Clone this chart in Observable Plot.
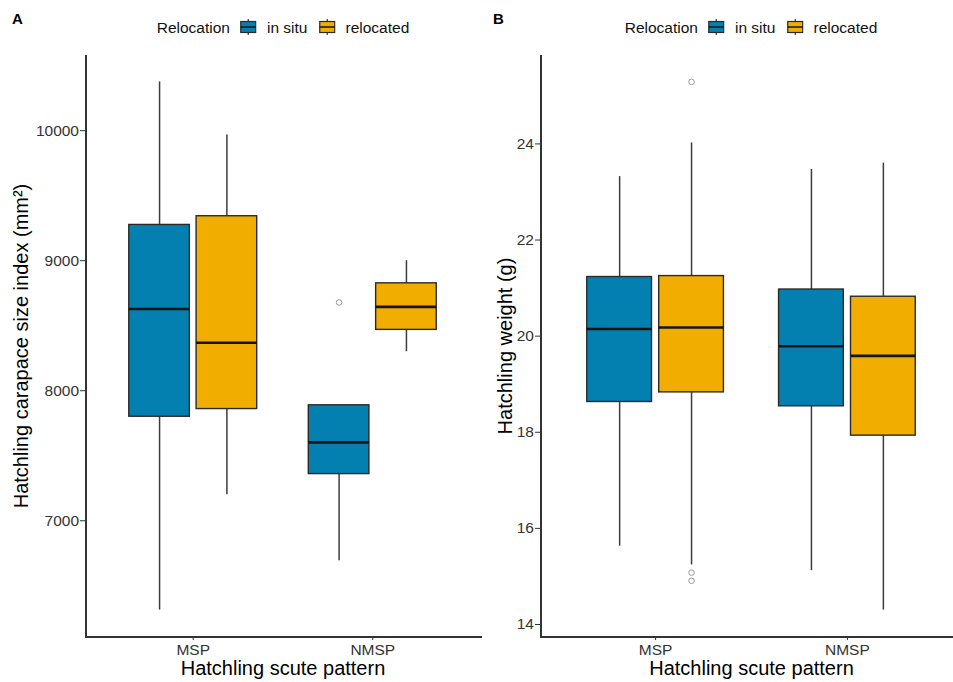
<!DOCTYPE html>
<html>
<head>
<meta charset="utf-8">
<script src="https://cdn.jsdelivr.net/npm/d3@7"></script>
<script src="https://cdn.jsdelivr.net/npm/@observablehq/plot@0.6"></script>
<style>
  html, body { margin: 0; padding: 0; background: #fff; overflow: hidden; }
  #root { position: relative; width: 953px; height: 682px; overflow: hidden;
          font-family: "Liberation Sans", Arial, Helvetica, sans-serif; background: #fff; }
  .tag { position: absolute; font-weight: bold; font-size: 15px; color: #000; line-height: 1; }
  .legend { position: absolute; display: flex; align-items: center; transform: translate(-50%, -50%);
            font-size: 15.5px; color: #111; white-space: nowrap; line-height: 1; }
  .legend .ttl { margin-right: 10px; }
  .legend svg { margin-right: 10px; display: block; }
  .legend .lab { margin-right: 11px; }
  .legend .lab:last-child { margin-right: 0; }
  .plotwrap { position: absolute; top: 40px; width: 482px; height: 642px; }
  .plotwrap svg { max-width: none !important; }
  .plotwrap [aria-label$="-axis label"] { font-size: 20px; fill: #000; }
</style>
</head>
<body>
<div id="root"></div>
<script>
// ---- categories ----
const patterns = ["MSP", "NMSP"];
const relocations = ["in situ", "relocated"];
const relocationColors = ["#0480B0", "#F2AE00"];

// box order: MSP/in situ, MSP/relocated, NMSP/in situ, NMSP/relocated
const boxPattern = ["MSP", "MSP", "NMSP", "NMSP"];
const boxRelocation = ["in situ", "relocated", "in situ", "relocated"];

// ---- Panel A: Hatchling carapace size index (mm²) ----
const sizeMin    = [6313, 7200, 6692, 8300];
const sizeQ1     = [7800, 7859, 7359, 8468];
const sizeMedian = [8628, 8369, 7603, 8645];
const sizeQ3     = [9275, 9342, 7888, 8826];
const sizeMax    = [10375, 9966, 7888, 9000];
const sizeOutPattern    = ["NMSP"];
const sizeOutRelocation = ["in situ"];
const sizeOutValue      = [8679];
const sizeTicks = [7000, 8000, 9000, 10000];

// ---- Panel B: Hatchling weight (g) ----
const weightMin    = [15.63, 15.24, 15.12, 14.30];
const weightQ1     = [18.63, 18.83, 18.54, 17.93];
const weightMedian = [20.15, 20.18, 19.79, 19.59];
const weightQ3     = [21.23, 21.25, 20.97, 20.82];
const weightMax    = [23.32, 24.02, 23.47, 23.60];
const weightOutPattern    = ["MSP", "MSP", "MSP"];
const weightOutRelocation = ["relocated", "relocated", "relocated"];
const weightOutValue      = [25.29, 15.08, 14.91];
const weightTicks = [14, 16, 18, 20, 22, 24];

function boxTable(mn, q1, md, q3, mx) {
  return boxPattern.map((p, i) => ({
    pattern: p, relocation: boxRelocation[i],
    min: mn[i], q1: q1[i], median: md[i], q3: q3[i], max: mx[i]
  }));
}
function outTable(pat, rel, val) {
  return val.map((v, i) => ({pattern: pat[i], relocation: rel[i], value: v}));
}

function panel({boxes, outliers, ticks, label, width, marginLeft, labelOffset}) {
  const all = boxes.flatMap(d => [d.min, d.max]).concat(outliers.map(d => d.value));
  const [lo, hi] = d3.extent(all);
  const pad = (hi - lo) * 0.05;
  return Plot.plot({
    width, height: 642,
    marginTop: 15, marginBottom: 46, marginLeft, marginRight: 2,
    style: {fontFamily: '"Liberation Sans", Arial, Helvetica, sans-serif', fontSize: "15.5px",
            color: "#333", background: "transparent", overflow: "visible", maxWidth: "none"},
    fx: {domain: patterns, paddingInner: -0.2, paddingOuter: 0, round: false,
         axis: "bottom", label: "Hatchling scute pattern", labelAnchor: "center",
         labelOffset: 38, tickSize: 4, tickPadding: 3},
    x: {domain: relocations, paddingInner: 0.1, paddingOuter: 0.65, round: false, axis: null},
    y: {domain: [lo - pad, hi + pad], ticks, tickFormat: d => String(d),
        tickSize: 5, tickPadding: 1.5, label, labelAnchor: "center", labelOffset, labelArrow: "none"},
    color: {domain: relocations, range: relocationColors},
    marks: [
      Plot.frame({anchor: "left", facetAnchor: "left", stroke: "#333", strokeWidth: 2, shapeRendering: "crispEdges"}),
      Plot.frame({anchor: "bottom", stroke: "#333", strokeWidth: 2, shapeRendering: "crispEdges"}),
      Plot.ruleX(boxes, {fx: "pattern", x: "relocation", y1: "min", y2: "q1", stroke: "#3c3c3c", strokeWidth: 1.5}),
      Plot.ruleX(boxes, {fx: "pattern", x: "relocation", y1: "q3", y2: "max", stroke: "#3c3c3c", strokeWidth: 1.5}),
      Plot.barY(boxes, {fx: "pattern", x: "relocation", y1: "q1", y2: "q3", fill: "relocation",
                        stroke: "#2a2a2a", strokeWidth: 1.4}),
      Plot.tickY(boxes, {fx: "pattern", x: "relocation", y: "median", stroke: "#151515", strokeWidth: 2.6}),
      Plot.dot(outliers, {fx: "pattern", x: "relocation", y: "value", r: 2.8, fill: "none",
                          stroke: "#9a9a9a", strokeWidth: 1})
    ]
  });
}

function glyph(color) {
  const ns = "http://www.w3.org/2000/svg";
  const s = document.createElementNS(ns, "svg");
  s.setAttribute("width", 17); s.setAttribute("height", 17);
  s.innerHTML =
    `<line x1="8.5" x2="8.5" y1="0.5" y2="16.5" stroke="#333" stroke-width="1.2"/>` +
    `<rect x="1" y="3" width="15" height="11" fill="${color}" stroke="#2a2a2a" stroke-width="1.2"/>` +
    `<line x1="1" x2="16" y1="8.5" y2="8.5" stroke="#151515" stroke-width="1.6"/>`;
  return s;
}

function legend(cx) {
  const div = document.createElement("div");
  div.className = "legend";
  div.style.left = cx + "px";
  div.style.top = "27px";
  const t = document.createElement("span"); t.className = "ttl"; t.textContent = "Relocation";
  div.appendChild(t);
  relocations.forEach((r, i) => {
    div.appendChild(glyph(relocationColors[i]));
    const l = document.createElement("span"); l.className = "lab"; l.textContent = r;
    div.appendChild(l);
  });
  return div;
}

const root = document.getElementById("root");

function addPanel(tag, tagLeft, left, plot, legendCx) {
  const t = document.createElement("div"); t.className = "tag"; t.textContent = tag;
  t.style.left = tagLeft + "px"; t.style.top = "11px";
  root.appendChild(t);
  root.appendChild(legend(legendCx));
  const w = document.createElement("div"); w.className = "plotwrap"; w.style.left = left + "px";
  w.appendChild(plot);
  root.appendChild(w);
}

addPanel("A", 12, 0, panel({
  boxes: boxTable(sizeMin, sizeQ1, sizeMedian, sizeQ3, sizeMax),
  outliers: outTable(sizeOutPattern, sizeOutRelocation, sizeOutValue),
  ticks: sizeTicks, label: "Hatchling carapace size index (mm²)",
  width: 482, marginLeft: 85, labelOffset: 72
}), 283);

addPanel("B", 493, 482, panel({
  boxes: boxTable(weightMin, weightQ1, weightMedian, weightQ3, weightMax),
  outliers: outTable(weightOutPattern, weightOutRelocation, weightOutValue),
  ticks: weightTicks, label: "Hatchling weight (g)",
  width: 482, marginLeft: 58, labelOffset: 43
}), 751);
</script>
</body>
</html>
